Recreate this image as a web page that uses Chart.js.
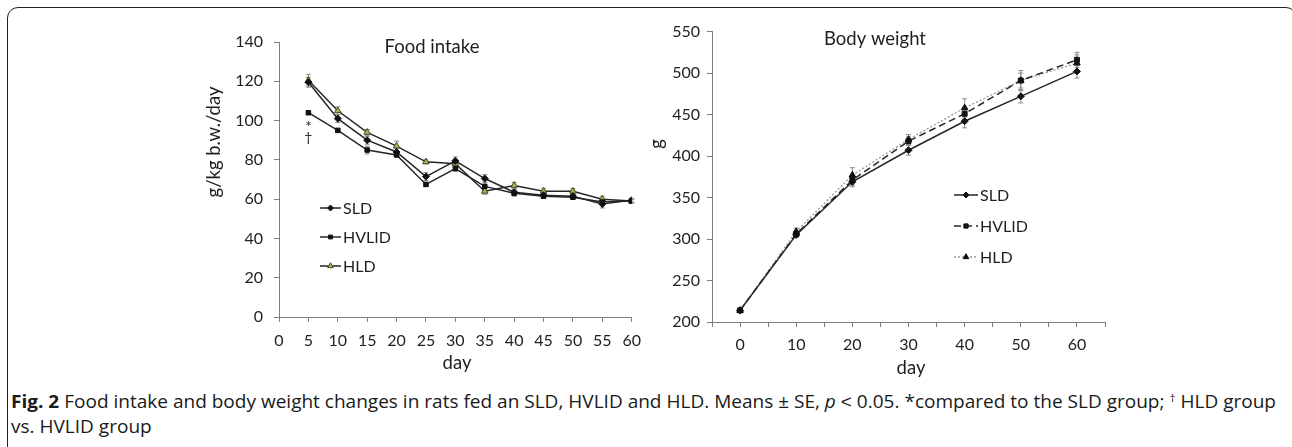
<!DOCTYPE html>
<html>
<head>
<meta charset="utf-8">
<script src="https://cdn.jsdelivr.net/npm/chart.js@4.4.1/dist/chart.umd.min.js"></script>
<style>
  body { margin: 0; background: #fff; width: 1292px; height: 447px; overflow: hidden; position: relative; }
  #frame {
    position: absolute; left: 7px; top: 7px; width: 1290px; height: 450px;
    border: 1.5px solid #222; border-radius: 11px; box-sizing: border-box;
  }
  #foodChart { position: absolute; left: 190px; top: 20px; }
  #weightChart { position: absolute; left: 640px; top: 15px; }
  #caption {
    position: absolute; left: 11px; top: 389px; white-space: nowrap;
    font-family: "Open Sans", sans-serif; font-size: 17.5px; line-height: 25px;
    color: #1a1a1a; transform-origin: 0 0;
  }
  #caption b { font-weight: 700; }
  #caption sup { font-size: 11px; vertical-align: 6px; line-height: 0; }
</style>
</head>
<body>
<div id="frame"></div>
<canvas id="foodChart" width="460" height="360"></canvas>
<canvas id="weightChart" width="480" height="370"></canvas>
<div id="caption"><span id="capLine"><b>Fig. 2</b> Food intake and body weight changes in rats fed an SLD, HVLID and HLD. Means ± SE, <i>p</i> ˂ 0.05. *compared to the SLD group; <sup>†</sup> HLD group</span><br>vs. HVLID group</div>
<script>
// Food intake (g/kg b.w./day)
const foodDays = [5, 10, 15, 20, 25, 30, 35, 40, 45, 50, 55, 60];
const foodSLD = [119.5, 101, 90, 84, 71.5, 79.5, 70.5, 63.5, 62, 61.5, 57.5, 59.5];
const foodSLDErr = [2.5, 2, 2, 2, 2, 2, 2, 1.5, 1.5, 1, 2, 1];
const foodHVLID = [104, 95, 85, 82.5, 67.5, 75.5, 66.5, 63, 61.5, 61, 58.5, 59];
const foodHVLIDErr = [1, 1, 2, 1, 1, 1, 2, 1.5, 1, 1, 1.5, 1];
const foodHLD = [120.5, 105, 94, 87, 79, 78, 64, 67, 64, 64, 60, 59];
const foodHLDErr = [3, 2, 1.5, 2.5, 1, 1.5, 1.5, 1.5, 1.5, 1.5, 1.5, 1];

// Body weight (g)
const weightDays = [0, 10, 20, 30, 40, 50, 60];
const weightSLD = [214, 305, 369, 407, 442, 472, 502];
const weightSLDErr = [2, 3, 6, 6, 8, 8, 8];
const weightHVLID = [214, 306, 371, 418, 451, 491, 516];
const weightHVLIDErr = [2, 3, 6, 5, 7, 9, 9];
const weightHLD = [214, 309, 377, 420, 458, 491, 512];
const weightHLDErr = [2, 4, 9, 6, 11, 12, 10];

const weightTickLabels = [0, 10, 20, 30, 40, 50, 60];

const FONT = 'Lato, "Open Sans", sans-serif';
const TEXT = '#1f1f1f';
const AXIS = '#7f7f7f';

const toPoints = (xs, ys) => xs.map((x, i) => ({ x: x, y: ys[i] }));

// Draws mean ± SE bars under the lines
const errorBars = {
  id: 'errorBars',
  beforeDatasetsDraw(chart) {
    const { ctx, scales: { x, y } } = chart;
    ctx.save();
    ctx.strokeStyle = '#8c8c8c';
    ctx.lineWidth = 1;
    chart.data.datasets.forEach(ds => {
      if (!ds.errors) return;
      ds.data.forEach((p, i) => {
        const px = x.getPixelForValue(p.x);
        const top = y.getPixelForValue(p.y + ds.errors[i]);
        const bot = y.getPixelForValue(p.y - ds.errors[i]);
        ctx.beginPath();
        ctx.moveTo(px, top); ctx.lineTo(px, bot);
        ctx.moveTo(px - 2.5, top); ctx.lineTo(px + 2.5, top);
        ctx.moveTo(px - 2.5, bot); ctx.lineTo(px + 2.5, bot);
        ctx.stroke();
      });
    });
    ctx.restore();
  }
};

function drawMarker(ctx, ds, x, y) {
  ctx.fillStyle = ds.pointBackgroundColor;
  ctx.strokeStyle = ds.pointBorderColor;
  ctx.lineWidth = ds.pointBorderWidth;
  ctx.setLineDash([]);
  Chart.helpers.drawPoint(ctx, {
    pointStyle: ds.pointStyle, radius: ds.pointRadius - 0.5, rotation: 0, borderWidth: ds.pointBorderWidth
  }, x, y);
}

// Titles, axis titles and the in-plot legend
const figureText = {
  id: 'figureText',
  afterDraw(chart, args, opts) {
    const ctx = chart.ctx;
    ctx.save();
    ctx.fillStyle = TEXT;
    ctx.textAlign = 'center';
    ctx.textBaseline = 'middle';
    ctx.font = '18.5px ' + FONT;
    ctx.fillText(opts.title.text, opts.title.x, opts.title.y);
    ctx.fillText(opts.xTitle.text, opts.xTitle.x, opts.xTitle.y);
    ctx.save();
    ctx.translate(opts.yTitle.x, opts.yTitle.y);
    ctx.rotate(-Math.PI / 2);
    ctx.fillText(opts.yTitle.text, 0, 0);
    ctx.restore();

    // legend
    const lg = opts.legend;
    chart.data.datasets.forEach((ds, i) => {
      const ly = lg.y + i * lg.gap;
      ctx.strokeStyle = ds.borderColor;
      ctx.lineWidth = ds.borderWidth;
      ctx.setLineDash(ds.borderDash || []);
      ctx.beginPath();
      ctx.moveTo(lg.x, ly);
      ctx.lineTo(lg.x + lg.len, ly);
      ctx.stroke();
      drawMarker(ctx, ds, lg.x + lg.len / 2, ly);
      ctx.fillStyle = TEXT;
      ctx.textAlign = 'left';
      ctx.font = '16px ' + FONT;
      ctx.fillText(ds.label, lg.x + lg.len + 2, ly + 1);
    });

    // significance marks
    if (opts.marks) {
      const ds = chart.data.datasets[opts.marks.dataset];
      const p = ds.data[opts.marks.index];
      const px = chart.scales.x.getPixelForValue(p.x);
      const py = chart.scales.y.getPixelForValue(p.y);
      ctx.fillStyle = TEXT;
      ctx.textAlign = 'center';
      ctx.font = '16px ' + FONT;
      ctx.fillText('*', px, py + 14);
      ctx.font = '14px ' + FONT;
      ctx.fillText('†', px, py + 25);
    }
    ctx.restore();
  }
};

function axis(extra) {
  return Object.assign({
    type: 'linear',
    grid: { drawOnChartArea: false, drawTicks: true, tickLength: 5, color: AXIS },
    border: { display: true, color: AXIS, width: 1 }
  }, extra);
}

function series(label, xs, ys, errs, style) {
  return Object.assign({
    label: label,
    data: toPoints(xs, ys),
    errors: errs,
    borderColor: '#262626',
    borderWidth: 1.5,
    tension: 0,
    pointBackgroundColor: '#111',
    pointBorderColor: '#111',
    pointBorderWidth: 1,
    pointRadius: 3.5
  }, style);
}

const baseOptions = {
  responsive: false,
  animation: false,
  events: [],
  plugins: { legend: { display: false }, tooltip: { enabled: false } }
};

const tickFont = { family: FONT, size: 16 };

new Chart(document.getElementById('foodChart'), {
  type: 'line',
  data: {
    datasets: [
      series('SLD', foodDays, foodSLD, foodSLDErr, { pointStyle: 'rectRot', pointRadius: 3.5 }),
      series('HVLID', foodDays, foodHVLID, foodHVLIDErr, { pointStyle: 'rect', pointRadius: 3.2 }),
      series('HLD', foodDays, foodHLD, foodHLDErr, {
        pointStyle: 'triangle', pointRadius: 3.8,
        pointBackgroundColor: '#9bbb59', pointBorderColor: '#3d4d1f'
      })
    ]
  },
  options: Object.assign({}, baseOptions, {
    layout: { padding: { left: 0, right: 17, top: 22, bottom: 0 } },
    scales: {
      x: axis({
        min: 0, max: 60,
        ticks: { stepSize: 5, padding: 9, color: TEXT, font: tickFont },
        afterFit: s => { s.height = 63; }
      }),
      y: axis({
        min: 0, max: 140,
        ticks: { stepSize: 20, padding: 11, color: TEXT, font: tickFont },
        afterFit: s => { s.width = 89; }
      })
    },
    plugins: Object.assign({}, baseOptions.plugins, {
      figureText: {
        title: { text: 'Food intake', x: 242, y: 27 },
        xTitle: { text: 'day', x: 267, y: 343 },
        yTitle: { text: 'g/kg b.w./day', x: 24, y: 122 },
        legend: { x: 130, y: 188, gap: 29, len: 21 },
        marks: { dataset: 1, index: 0 }
      }
    })
  }),
  plugins: [errorBars, figureText]
});

new Chart(document.getElementById('weightChart'), {
  type: 'line',
  data: {
    datasets: [
      series('SLD', weightDays, weightSLD, weightSLDErr, { pointStyle: 'rectRot', pointRadius: 3.5 }),
      series('HVLID', weightDays, weightHVLID, weightHVLIDErr, {
        pointStyle: 'rect', pointRadius: 3.5, borderDash: [7, 4]
      }),
      series('HLD', weightDays, weightHLD, weightHLDErr, {
        pointStyle: 'triangle', pointRadius: 3.8, borderColor: '#9a9a9a', borderWidth: 1.3, borderDash: [2, 2]
      })
    ]
  },
  options: Object.assign({}, baseOptions, {
    layout: { padding: { left: 0, right: 15, top: 16, bottom: 0 } },
    scales: {
      x: axis({
        min: -5, max: 65,
        ticks: {
          stepSize: 5, padding: 8, color: TEXT, font: tickFont,
          callback: v => (weightTickLabels.includes(v) ? String(v) : '')
        },
        afterFit: s => { s.height = 63; }
      }),
      y: axis({
        min: 200, max: 550,
        ticks: { stepSize: 50, padding: 7, color: TEXT, font: tickFont },
        afterFit: s => { s.width = 72; }
      })
    },
    plugins: Object.assign({}, baseOptions.plugins, {
      figureText: {
        title: { text: 'Body weight', x: 235, y: 24 },
        xTitle: { text: 'day', x: 271, y: 353 },
        yTitle: { text: 'g', x: 17, y: 129 },
        legend: { x: 314, y: 180, gap: 31, len: 24 }
      }
    })
  }),
  plugins: [errorBars, figureText]
});

// stretch the caption so its first line spans the frame like the original
const cap = document.getElementById('caption');
const lineWidth = document.getElementById('capLine').getBoundingClientRect().width;
cap.style.transform = 'scaleX(' + (1265 / lineWidth) + ')';
</script>
</body>
</html>
